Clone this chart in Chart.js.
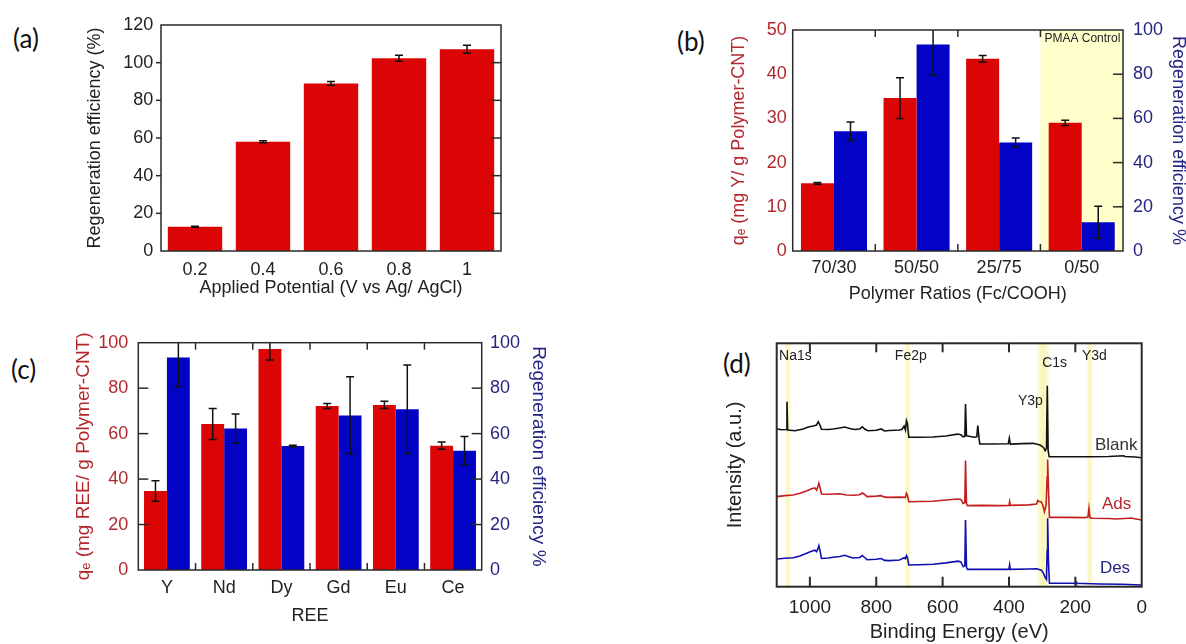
<!DOCTYPE html>
<html lang="en">
<head>
<meta charset="UTF-8">
<title>Regeneration efficiency and XPS survey</title>
<style>
  html, body { margin: 0; padding: 0; background: #fff; }
  body { width: 1186px; height: 644px; overflow: hidden; position: relative; }
  canvas { position: absolute; left: 0; top: 0; }
  .tag { position: absolute; font-family: Lato, 'Open Sans', sans-serif; font-size: 26px; line-height: 26px; color: #111; }
</style>
</head>
<body>
  <!-- panel letters -->
  <div class="tag" style="left:13px;top:25px">(a)</div>
  <div class="tag" style="left:677px;top:28px">(b)</div>
  <div class="tag" style="left:11px;top:356px">(c)</div>
  <div class="tag" style="left:723px;top:350px">(d)</div>

  <canvas id="chartA" width="1200" height="660"></canvas>
  <canvas id="chartB" width="1200" height="660"></canvas>
  <canvas id="chartC" width="1200" height="660"></canvas>
  <canvas id="chartD" width="1200" height="660"></canvas>

  <script src="https://cdn.jsdelivr.net/npm/chart.js"></script>
  <script>
    // (a) regeneration vs applied potential
    const potLabels = ['0.2', '0.4', '0.6', '0.8', '1'];
    const potEff = [12.9, 58.0, 89.0, 102.3, 107.1];
    const potErr = [0.3, 0.5, 1.0, 1.6, 2.1];

    // (b) polymer ratios
    const ratioLabels = ['70/30', '50/50', '25/75', '0/50'];
    const ratioQe = [15.3, 34.6, 43.5, 29.0];
    const ratioQeErr = [0.2, 4.6, 0.75, 0.6];
    const ratioRegen = [54.2, 93.4, 49.1, 13.0];
    const ratioRegenErr = [4.2, 13.8, 2.0, 7.2];

    // (c) REE
    const reeLabels = ['Y', 'Nd', 'Dy', 'Gd', 'Eu', 'Ce'];
    const reeQe = [34.8, 64.2, 97.2, 72.1, 72.6, 54.7];
    const reeQeErr = [4.5, 6.8, 4.8, 1.1, 1.6, 1.6];
    const reeRegen = [93.5, 62.2, 54.5, 68.0, 70.7, 52.5];
    const reeRegenErr = [13.0, 6.4, 0.4, 17.0, 19.5, 6.2];

    // (d) XPS survey, [binding energy eV, intensity a.u.]
    const blankSpec = [
      [1100,64.8],[1085,64.5],[1071,64.6],[1069,76.0],[1067,64.4],[1045,64.1],[1020,64.8],[1005,65.6],
      [990,66.0],[980,66.4],[975,67.8],[970,66.5],[965,64.7],[945,64.6],[930,64.8],[910,65.2],[895,65.6],
      [880,65.0],[865,64.6],[850,64.8],[842,65.7],[835,64.8],[825,64.1],[800,64.3],[785,64.8],[775,64.0],
      [760,64.2],[730,64.4],[722,64.7],[716,66.0],[712,64.4],[709,68.2],[706,67.0],[702,61.4],[670,61.4],
      [630,61.5],[590,61.9],[555,62.7],[545,62.4],[538,61.6],[533,61.8],[531,75.1],[528,62.0],[524,61.9],
      [505,61.4],[497,61.6],[494,66.2],[491,62.0],[488,58.6],[450,58.6],[402,58.7],[399,61.0],[396,58.6],
      [360,58.8],[327,58.9],[306,58.2],[296,57.2],[291,55.9],[287,56.8],[284.5,82.6],[282,56.0],[279,53.4],
      [226,53.4],[160,53.4],[100,53.5],[55,53.8],[50,53.5],[20,53.3],[0,53.0]
    ];
    const adsSpec = [
      [1100,37.0],[1075,37.4],[1050,37.7],[1030,38.4],[1010,39.3],[995,40.2],[985,40.6],[980,39.7],[976,41.0],
      [973,42.5],[969,40.5],[965,38.1],[945,38.0],[930,38.1],[910,38.2],[890,37.7],[870,37.6],[850,37.8],
      [842,38.5],[835,37.9],[828,37.0],[800,37.2],[785,37.4],[775,36.8],[760,36.7],[730,36.8],[712,36.7],
      [709,38.4],[706,37.6],[702,34.9],[670,35.0],[630,35.1],[590,35.6],[553,36.0],[545,35.8],[538,34.2],
      [533,34.6],[531,51.8],[528,34.0],[525,33.3],[480,33.4],[427,33.3],[400,33.4],[398,34.9],[396,33.4],
      [340,33.6],[317,34.0],[313,35.4],[309,35.0],[303,34.9],[298,33.5],[293,30.8],[288,33.6],[285,45.0],
      [283.5,52.3],[281,40.0],[278,28.5],[226,28.5],[170,28.4],[162,28.6],[159,32.2],[156,28.4],[150,28.1],
      [100,28.0],[75,27.8],[30,28.2],[25,28.0],[0,27.4]
    ];
    const desSpec = [
      [1100,11.4],[1075,11.7],[1050,11.9],[1030,12.6],[1010,13.7],[995,14.6],[985,15.0],[980,14.4],[976,15.5],
      [973,16.8],[969,14.5],[965,11.6],[945,11.8],[930,12.1],[910,12.4],[895,12.9],[880,12.2],[870,11.8],
      [850,12.0],[842,12.8],[835,12.0],[828,11.1],[800,11.3],[785,11.6],[775,10.8],[760,10.7],[730,11.0],
      [716,11.9],[712,11.5],[709,12.8],[706,12.0],[702,8.9],[670,9.0],[628,9.2],[590,9.8],[553,10.5],
      [545,10.2],[538,8.2],[533,8.6],[531,27.4],[528,8.0],[525,7.1],[480,7.1],[427,7.1],[400,7.2],[398,8.9],
      [396,7.1],[340,7.3],[317,7.4],[302,6.8],[296,5.5],[291,3.8],[287,3.0],[285,15.0],[283.5,28.1],[281,10.0],
      [278,1.4],[226,1.4],[200,1.4],[198,2.0],[196,1.4],[126,1.1],[60,1.0],[0,0.7]
    ];
    const bandRanges = [[1075, 1058], [714, 697], [317, 278], [166, 148]];
    const specLabels = [
      ['Na1s', 1093, 94.8, 14, '#222'], ['Fe2p', 744, 94.8, 14, '#222'], ['C1s', 300, 91.9, 14, '#222'],
      ['Y3d', 180, 94.8, 14, '#222'], ['Y3p', 373, 76.4, 14, '#222'],
      ['Blank', 141, 58.2, 17, '#333'], ['Ads', 120, 34.0, 17, '#b3282d'], ['Des', 126, 7.6, 17, '#262680']
    ];

    const FONT = "'Liberation Sans', Arial, sans-serif";
    const RED_TXT = '#b3282d', NAVY = '#262680';
    const RED_BAR = '#dc0505', BLUE_BAR = '#0303c6';

    // box round the plot + inward tick marks
    const framePlugin = {
      id: 'frame',
      afterDatasetsDraw(chart, args, o) {
        const { ctx, chartArea: a } = chart;
        ctx.save();
        ctx.strokeStyle = '#2a2a2a';
        ctx.lineWidth = o.lw || 1.5;
        ctx.strokeRect(a.left, a.top, a.right - a.left, a.bottom - a.top);
        const seg = (x1, y1, x2, y2) => { ctx.beginPath(); ctx.moveTo(x1, y1); ctx.lineTo(x2, y2); ctx.stroke(); };
        const ys = chart.scales.y, xs = chart.scales.x;
        if (o.left || o.right) {
          ys.ticks.forEach((t, i) => {
            const p = ys.getPixelForTick(i);
            if (Math.abs(p - a.top) < 2 || Math.abs(p - a.bottom) < 2) return;
            if (o.left === 'in') seg(a.left, p, a.left + 10, p);
            if (o.left === 'out') seg(a.left - 5, p, a.left, p);
            if (o.right) seg(a.right - 10, p, a.right, p);
          });
        }
        if (o.cat) {
          for (let i = 1; i < xs.ticks.length; i++) {
            const p = (xs.getPixelForValue(i - 1) + xs.getPixelForValue(i)) / 2;
            seg(p, a.top, p, a.top + 7);
            seg(p, a.bottom, p, a.bottom - 7);
          }
        }
        if (o.xTicks) {
          xs.ticks.forEach((t, i) => {
            const p = xs.getPixelForTick(i);
            if (Math.abs(p - a.left) < 2 || Math.abs(p - a.right) < 2) return;
            seg(p, a.top, p, a.top + 9);
            seg(p, a.bottom, p, a.bottom - 10);
          });
        }
        ctx.restore();
      }
    };

    const errPlugin = {
      id: 'errbars',
      afterDatasetsDraw(chart, args, o) {
        const { ctx, chartArea: a } = chart;
        ctx.save();
        ctx.beginPath(); ctx.rect(a.left, a.top, a.right - a.left, a.bottom - a.top); ctx.clip();
        ctx.strokeStyle = '#111'; ctx.lineWidth = 1.5;
        chart.data.datasets.forEach((ds, di) => {
          const errs = o.errs[di];
          if (!errs) return;
          const meta = chart.getDatasetMeta(di);
          const ys = chart.scales[meta.yAxisID];
          meta.data.forEach((bar, i) => {
            const y1 = ys.getPixelForValue(ds.data[i] + errs[i]);
            const y2 = ys.getPixelForValue(ds.data[i] - errs[i]);
            const x = bar.x, c = 4;
            ctx.beginPath();
            ctx.moveTo(x, y1); ctx.lineTo(x, y2);
            ctx.moveTo(x - c, y1); ctx.lineTo(x + c, y1);
            ctx.moveTo(x - c, y2); ctx.lineTo(x + c, y2);
            ctx.stroke();
          });
        });
        ctx.restore();
      }
    };

    // yellow PMAA control zone in (b)
    const shadePlugin = {
      id: 'shade',
      beforeDatasetsDraw(chart) {
        const { ctx, chartArea: a, scales: { x } } = chart;
        const p = (x.getPixelForValue(2) + x.getPixelForValue(3)) / 2;
        ctx.save();
        ctx.fillStyle = '#ffffcc';
        ctx.fillRect(p, a.top, a.right - p, a.bottom - a.top);
        ctx.fillStyle = '#222';
        ctx.font = '12px ' + FONT;
        ctx.textBaseline = 'middle';
        ctx.fillText('PMAA Control', p + 4, a.top + 9);
        ctx.restore();
      }
    };

    // peak bands and labels in (d)
    const bandPlugin = {
      id: 'bands',
      beforeDatasetsDraw(chart) {
        const { ctx, chartArea: a, scales: { x } } = chart;
        ctx.save();
        bandRanges.forEach(([hi, lo]) => {
          const x1 = x.getPixelForValue(hi), x2 = x.getPixelForValue(lo);
          const g = ctx.createLinearGradient(x1, 0, x2, 0);
          g.addColorStop(0, 'rgba(250,244,170,0.25)');
          g.addColorStop(0.5, 'rgba(250,244,170,0.9)');
          g.addColorStop(1, 'rgba(250,244,170,0.25)');
          ctx.fillStyle = g;
          ctx.fillRect(x1, a.top, x2 - x1, a.bottom - a.top);
        });
        ctx.restore();
      },
      afterDatasetsDraw(chart) {
        const { ctx, scales: { x, y } } = chart;
        ctx.save();
        ctx.textBaseline = 'middle';
        specLabels.forEach(([t, e, v, size, col]) => {
          ctx.font = size + 'px ' + FONT;
          ctx.fillStyle = col;
          ctx.fillText(t, x.getPixelForValue(e), y.getPixelForValue(v));
        });
        ctx.restore();
      }
    };

    const noGrid = { display: false, drawTicks: false };
    const tickFont = s => ({ family: FONT, size: s });

    // (a)
    new Chart(document.getElementById('chartA'), {
      type: 'bar',
      data: { labels: potLabels, datasets: [{ data: potEff, backgroundColor: RED_BAR, borderWidth: 0 }] },
      options: {
        responsive: false, animation: false,
        layout: { padding: { left: 84.2, top: 25, right: 699, bottom: 360.7 } },
        plugins: { legend: { display: false }, tooltip: { enabled: false }, errbars: { errs: [potErr] }, frame: { left: 'out', right: true } },
        datasets: { bar: { categoryPercentage: 0.8, barPercentage: 1 } },
        scales: {
          x: { grid: noGrid, border: { display: false }, ticks: { font: tickFont(18), color: '#222', padding: 8.2 },
               title: { display: true, text: 'Applied Potential (V vs Ag/ AgCl)', font: tickFont(18), color: '#222', padding: 0 },
               afterFit: s => { s.height = 48.3; } },
          y: { min: 0, max: 120, grid: noGrid, border: { display: false },
               ticks: { stepSize: 20, font: tickFont(18), color: '#222', padding: 7.7 },
               title: { display: true, text: 'Regeneration efficiency (%)', font: tickFont(18), color: '#222', padding: 0 },
               afterFit: s => { s.width = 76.8; } }
        }
      },
      plugins: [errPlugin, framePlugin]
    });

    // (b)
    new Chart(document.getElementById('chartB'), {
      type: 'bar',
      data: {
        labels: ratioLabels,
        datasets: [
          { data: ratioQe, backgroundColor: RED_BAR, borderWidth: 0, yAxisID: 'y' },
          { data: ratioRegen, backgroundColor: BLUE_BAR, borderWidth: 0, yAxisID: 'y2' }
        ]
      },
      options: {
        responsive: false, animation: false,
        layout: { padding: { left: 728.2, top: 30, right: 11.7, bottom: 355.5 } },
        plugins: { legend: { display: false }, tooltip: { enabled: false }, errbars: { errs: [ratioQeErr, ratioRegenErr] }, frame: { right: true, cat: true } },
        datasets: { bar: { categoryPercentage: 0.8, barPercentage: 1 } },
        scales: {
          x: { grid: noGrid, border: { display: false }, ticks: { font: tickFont(18), color: '#222', padding: 6.5 },
               title: { display: true, text: 'Polymer Ratios (Fc/COOH)', font: tickFont(18), color: '#222', padding: 0 },
               afterFit: s => { s.height = 53.5; } },
          y: { position: 'left', min: 0, max: 50, grid: noGrid, border: { display: false },
               ticks: { stepSize: 10, font: tickFont(18), color: RED_TXT, padding: 6 },
               title: { display: true, text: 'qₑ (mg Y/ g Polymer-CNT)', font: tickFont(18), color: RED_TXT, padding: 0 },
               afterFit: s => { s.width = 64.5; } },
          y2: { position: 'right', min: 0, max: 100, grid: noGrid, border: { display: false },
               ticks: { stepSize: 20, font: tickFont(18), color: NAVY, padding: 10 },
               title: { display: true, text: 'Regeneration efficiency %', font: tickFont(18), color: NAVY, padding: 0 },
               afterFit: s => { s.width = 65.3; } }
        }
      },
      plugins: [shadePlugin, errPlugin, framePlugin]
    });

    // (c)
    new Chart(document.getElementById('chartC'), {
      type: 'bar',
      data: {
        labels: reeLabels,
        datasets: [
          { data: reeQe, backgroundColor: RED_BAR, borderWidth: 0, yAxisID: 'y' },
          { data: reeRegen, backgroundColor: BLUE_BAR, borderWidth: 0, yAxisID: 'y2' }
        ]
      },
      options: {
        responsive: false, animation: false,
        layout: { padding: { left: 72.5, top: 342.7, right: 650.2, bottom: 33.2 } },
        plugins: { legend: { display: false }, tooltip: { enabled: false }, errbars: { errs: [reeQeErr, reeRegenErr] }, frame: { left: 'in', right: true, cat: true } },
        datasets: { bar: { categoryPercentage: 0.8, barPercentage: 1 } },
        scales: {
          x: { grid: noGrid, border: { display: false }, ticks: { font: tickFont(18), color: '#222', padding: 7.5 },
               title: { display: true, text: 'REE', font: tickFont(18), color: '#222', padding: 0 },
               afterFit: s => { s.height = 56.8; } },
          y: { position: 'left', min: 0, max: 100, grid: noGrid, border: { display: false },
               ticks: { stepSize: 20, font: tickFont(18), color: RED_TXT, padding: 10 },
               title: { display: true, text: 'qₑ (mg REE/ g Polymer-CNT)', font: tickFont(19), color: RED_TXT, padding: 0 },
               afterFit: s => { s.width = 65.8; } },
          y2: { position: 'right', min: 0, max: 100, grid: noGrid, border: { display: false },
               ticks: { stepSize: 20, font: tickFont(18), color: NAVY, padding: 8.3 },
               title: { display: true, text: 'Regeneration efficiency %', font: tickFont(19), color: NAVY, padding: 0 },
               afterFit: s => { s.width = 68.1; } }
        }
      },
      plugins: [errPlugin, framePlugin]
    });

    // (d)
    const toXY = arr => arr.map(([x, y]) => ({ x, y }));
    new Chart(document.getElementById('chartD'), {
      type: 'scatter',
      data: {
        datasets: [
          { data: toXY(blankSpec), borderColor: '#111', showLine: true, pointRadius: 0, borderWidth: 1.6 },
          { data: toXY(adsSpec), borderColor: '#c41e1e', showLine: true, pointRadius: 0, borderWidth: 1.6 },
          { data: toXY(desSpec), borderColor: '#1010b0', showLine: true, pointRadius: 0, borderWidth: 1.6 }
        ]
      },
      options: {
        responsive: false, animation: false,
        layout: { padding: { left: 723, top: 343.3, right: 58.3, bottom: 15.5 } },
        plugins: { legend: { display: false }, tooltip: { enabled: false }, frame: { xTicks: true, lw: 2 } },
        scales: {
          x: { type: 'linear', min: 0, max: 1100, reverse: true, grid: noGrid, border: { display: false },
               ticks: { stepSize: 200, includeBounds: false, autoSkip: false, font: tickFont(19), color: '#222', padding: 9.4,
                        callback: v => String(v) },
               afterBuildTicks: s => { s.ticks = s.ticks.filter(t => t.value % 200 === 0); },
               title: { display: true, text: 'Binding Energy (eV)', font: tickFont(20), color: '#222', padding: 0 },
               afterFit: s => { s.height = 57.8; } },
          y: { min: 0, max: 100, grid: noGrid, border: { display: false }, ticks: { display: false },
               title: { display: true, text: 'Intensity (a.u.)', font: tickFont(20), color: '#222', padding: 0 },
               afterFit: s => { s.width = 53.7; } }
        }
      },
      plugins: [bandPlugin, framePlugin]
    });
  </script>
</body>
</html>
